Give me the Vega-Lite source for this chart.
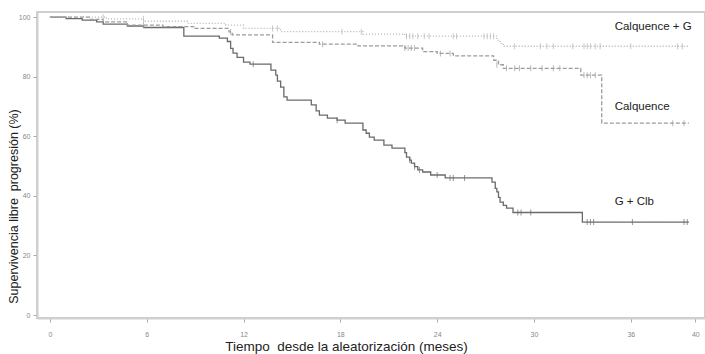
{
  "$schema": "https://vega.github.io/schema/vega-lite/v6.json",
  "width": 668,
  "height": 306,
  "autosize": "none",
  "padding": {"left": 37, "top": 12, "right": 0, "bottom": 36},
  "config": {
    "view": {"stroke": "#cfcfcf", "strokeWidth": 2},
    "axis": {
      "grid": false,
      "domainColor": "#cfcfcf",
      "domainWidth": 2,
      "tickColor": "#aaaaaa",
      "tickSize": 4,
      "labelColor": "#888888",
      "labelFontSize": 7,
      "labelFont": "Liberation Sans",
      "titleFont": "Liberation Sans",
      "titleFontSize": 13,
      "titleFontWeight": "normal",
      "titleColor": "#222222"
    }
  },
  "datasets": {
    "curves": [
      {"series": "G + Clb", "t": 0, "s": 100},
      {"series": "G + Clb", "t": 1.0, "s": 99.5},
      {"series": "G + Clb", "t": 2.0, "s": 99.0},
      {"series": "G + Clb", "t": 2.9, "s": 98.4},
      {"series": "G + Clb", "t": 3.3, "s": 97.6},
      {"series": "G + Clb", "t": 4.8, "s": 97.0},
      {"series": "G + Clb", "t": 5.8, "s": 96.5},
      {"series": "G + Clb", "t": 8.3, "s": 93.6},
      {"series": "G + Clb", "t": 10.5, "s": 92.9},
      {"series": "G + Clb", "t": 11.0, "s": 91.8},
      {"series": "G + Clb", "t": 11.2, "s": 89.5},
      {"series": "G + Clb", "t": 11.35, "s": 87.9},
      {"series": "G + Clb", "t": 11.6, "s": 86.5},
      {"series": "G + Clb", "t": 12.0, "s": 84.9},
      {"series": "G + Clb", "t": 12.4, "s": 84.2},
      {"series": "G + Clb", "t": 13.7, "s": 82.2},
      {"series": "G + Clb", "t": 14.0, "s": 80.5},
      {"series": "G + Clb", "t": 14.1, "s": 78.5},
      {"series": "G + Clb", "t": 14.3, "s": 76.5},
      {"series": "G + Clb", "t": 14.5, "s": 73.2},
      {"series": "G + Clb", "t": 14.7, "s": 72.1},
      {"series": "G + Clb", "t": 16.2, "s": 70.5},
      {"series": "G + Clb", "t": 16.5, "s": 68.5},
      {"series": "G + Clb", "t": 16.7, "s": 67.1},
      {"series": "G + Clb", "t": 17.2, "s": 66.1},
      {"series": "G + Clb", "t": 17.8, "s": 65.4},
      {"series": "G + Clb", "t": 18.3, "s": 64.4},
      {"series": "G + Clb", "t": 19.4, "s": 62.1},
      {"series": "G + Clb", "t": 19.6, "s": 61.0},
      {"series": "G + Clb", "t": 19.8, "s": 59.7},
      {"series": "G + Clb", "t": 20.1, "s": 58.7},
      {"series": "G + Clb", "t": 20.7, "s": 57.0},
      {"series": "G + Clb", "t": 21.2, "s": 56.0},
      {"series": "G + Clb", "t": 22.0, "s": 54.5},
      {"series": "G + Clb", "t": 22.1, "s": 53.0},
      {"series": "G + Clb", "t": 22.3, "s": 52.0},
      {"series": "G + Clb", "t": 22.4, "s": 51.0},
      {"series": "G + Clb", "t": 22.6, "s": 49.8},
      {"series": "G + Clb", "t": 22.8, "s": 48.7},
      {"series": "G + Clb", "t": 23.1, "s": 48.0},
      {"series": "G + Clb", "t": 23.6, "s": 47.0},
      {"series": "G + Clb", "t": 24.5, "s": 46.0},
      {"series": "G + Clb", "t": 27.4, "s": 44.6},
      {"series": "G + Clb", "t": 27.6, "s": 42.5},
      {"series": "G + Clb", "t": 27.7, "s": 41.3},
      {"series": "G + Clb", "t": 27.8, "s": 39.5},
      {"series": "G + Clb", "t": 27.9, "s": 37.9},
      {"series": "G + Clb", "t": 28.1, "s": 36.8},
      {"series": "G + Clb", "t": 28.3, "s": 35.9},
      {"series": "G + Clb", "t": 28.7, "s": 34.4},
      {"series": "G + Clb", "t": 33.0, "s": 31.2},
      {"series": "G + Clb", "t": 39.6, "s": 31.2},

      {"series": "Calquence", "t": 0, "s": 100},
      {"series": "Calquence", "t": 2.5, "s": 99.2},
      {"series": "Calquence", "t": 3.3, "s": 98.4},
      {"series": "Calquence", "t": 4.8, "s": 97.3},
      {"series": "Calquence", "t": 7.0, "s": 96.8},
      {"series": "Calquence", "t": 9.0, "s": 96.2},
      {"series": "Calquence", "t": 11.1, "s": 95.0},
      {"series": "Calquence", "t": 11.3, "s": 94.0},
      {"series": "Calquence", "t": 13.8, "s": 91.5},
      {"series": "Calquence", "t": 16.7, "s": 90.9},
      {"series": "Calquence", "t": 19.1, "s": 90.3},
      {"series": "Calquence", "t": 22.0, "s": 89.6},
      {"series": "Calquence", "t": 23.1, "s": 88.4},
      {"series": "Calquence", "t": 24.0, "s": 87.8},
      {"series": "Calquence", "t": 25.0, "s": 87.0},
      {"series": "Calquence", "t": 27.5, "s": 85.5},
      {"series": "Calquence", "t": 27.8, "s": 84.0},
      {"series": "Calquence", "t": 28.1, "s": 82.8},
      {"series": "Calquence", "t": 32.9, "s": 80.5},
      {"series": "Calquence", "t": 34.2, "s": 64.4},
      {"series": "Calquence", "t": 39.6, "s": 64.4},

      {"series": "Calquence + G", "t": 0, "s": 100},
      {"series": "Calquence + G", "t": 3.5, "s": 99.4},
      {"series": "Calquence + G", "t": 5.8, "s": 98.6},
      {"series": "Calquence + G", "t": 8.5, "s": 97.9},
      {"series": "Calquence + G", "t": 10.9, "s": 97.3},
      {"series": "Calquence + G", "t": 12.0, "s": 96.2},
      {"series": "Calquence + G", "t": 14.3, "s": 95.1},
      {"series": "Calquence + G", "t": 19.4, "s": 94.3},
      {"series": "Calquence + G", "t": 22.0, "s": 93.6},
      {"series": "Calquence + G", "t": 27.7, "s": 92.2},
      {"series": "Calquence + G", "t": 27.9, "s": 91.2},
      {"series": "Calquence + G", "t": 28.1, "s": 90.2},
      {"series": "Calquence + G", "t": 39.6, "s": 90.2}
    ],
    "censors": [
      {"series": "G + Clb", "t": 12.6, "s": 84.2},
      {"series": "G + Clb", "t": 17.8, "s": 65.4},
      {"series": "G + Clb", "t": 22.3, "s": 52.0},
      {"series": "G + Clb", "t": 22.6, "s": 49.8},
      {"series": "G + Clb", "t": 22.9, "s": 48.7},
      {"series": "G + Clb", "t": 24.0, "s": 47.0},
      {"series": "G + Clb", "t": 24.8, "s": 46.0},
      {"series": "G + Clb", "t": 25.0, "s": 46.0},
      {"series": "G + Clb", "t": 25.7, "s": 46.0},
      {"series": "G + Clb", "t": 29.0, "s": 34.4},
      {"series": "G + Clb", "t": 29.2, "s": 34.4},
      {"series": "G + Clb", "t": 29.8, "s": 34.4},
      {"series": "G + Clb", "t": 33.3, "s": 31.2},
      {"series": "G + Clb", "t": 33.5, "s": 31.2},
      {"series": "G + Clb", "t": 33.7, "s": 31.2},
      {"series": "G + Clb", "t": 36.1, "s": 31.2},
      {"series": "G + Clb", "t": 39.3, "s": 31.2},
      {"series": "G + Clb", "t": 39.5, "s": 31.2},

      {"series": "Calquence", "t": 5.8, "s": 97.3},
      {"series": "Calquence", "t": 11.2, "s": 95.0},
      {"series": "Calquence", "t": 16.9, "s": 90.9},
      {"series": "Calquence", "t": 22.0, "s": 89.6},
      {"series": "Calquence", "t": 22.2, "s": 89.6},
      {"series": "Calquence", "t": 22.4, "s": 89.6},
      {"series": "Calquence", "t": 22.6, "s": 89.6},
      {"series": "Calquence", "t": 24.2, "s": 87.8},
      {"series": "Calquence", "t": 24.8, "s": 87.8},
      {"series": "Calquence", "t": 27.7, "s": 84.0},
      {"series": "Calquence", "t": 28.3, "s": 82.8},
      {"series": "Calquence", "t": 28.8, "s": 82.8},
      {"series": "Calquence", "t": 29.1, "s": 82.8},
      {"series": "Calquence", "t": 29.8, "s": 82.8},
      {"series": "Calquence", "t": 30.5, "s": 82.8},
      {"series": "Calquence", "t": 31.2, "s": 82.8},
      {"series": "Calquence", "t": 31.6, "s": 82.8},
      {"series": "Calquence", "t": 33.1, "s": 80.5},
      {"series": "Calquence", "t": 33.3, "s": 80.5},
      {"series": "Calquence", "t": 33.5, "s": 80.5},
      {"series": "Calquence", "t": 33.8, "s": 80.5},
      {"series": "Calquence", "t": 38.6, "s": 64.4},
      {"series": "Calquence", "t": 39.3, "s": 64.4},

      {"series": "Calquence + G", "t": 3.3, "s": 100},
      {"series": "Calquence + G", "t": 5.8, "s": 99.4},
      {"series": "Calquence + G", "t": 13.8, "s": 96.2},
      {"series": "Calquence + G", "t": 14.1, "s": 96.2},
      {"series": "Calquence + G", "t": 18.1, "s": 95.1},
      {"series": "Calquence + G", "t": 19.3, "s": 95.1},
      {"series": "Calquence + G", "t": 22.1, "s": 93.6},
      {"series": "Calquence + G", "t": 22.3, "s": 93.6},
      {"series": "Calquence + G", "t": 22.5, "s": 93.6},
      {"series": "Calquence + G", "t": 22.8, "s": 93.6},
      {"series": "Calquence + G", "t": 23.2, "s": 93.6},
      {"series": "Calquence + G", "t": 23.5, "s": 93.6},
      {"series": "Calquence + G", "t": 25.0, "s": 93.6},
      {"series": "Calquence + G", "t": 25.2, "s": 93.6},
      {"series": "Calquence + G", "t": 26.9, "s": 93.6},
      {"series": "Calquence + G", "t": 27.1, "s": 93.6},
      {"series": "Calquence + G", "t": 27.3, "s": 93.6},
      {"series": "Calquence + G", "t": 27.5, "s": 93.6},
      {"series": "Calquence + G", "t": 28.8, "s": 90.2},
      {"series": "Calquence + G", "t": 30.4, "s": 90.2},
      {"series": "Calquence + G", "t": 30.8, "s": 90.2},
      {"series": "Calquence + G", "t": 31.2, "s": 90.2},
      {"series": "Calquence + G", "t": 32.4, "s": 90.2},
      {"series": "Calquence + G", "t": 33.1, "s": 90.2},
      {"series": "Calquence + G", "t": 33.3, "s": 90.2},
      {"series": "Calquence + G", "t": 33.5, "s": 90.2},
      {"series": "Calquence + G", "t": 33.8, "s": 90.2},
      {"series": "Calquence + G", "t": 34.1, "s": 90.2},
      {"series": "Calquence + G", "t": 36.0, "s": 90.2},
      {"series": "Calquence + G", "t": 38.9, "s": 90.2},
      {"series": "Calquence + G", "t": 39.2, "s": 90.2}
    ],
    "labels": [
      {"label": "Calquence + G", "t": 35.0, "s": 96.6},
      {"label": "Calquence", "t": 35.0, "s": 69.8},
      {"label": "G + Clb", "t": 35.0, "s": 37.9}
    ]
  },
  "encoding": {
    "x": {
      "field": "t", "type": "quantitative",
      "scale": {"domain": [-0.8, 40.6], "nice": false, "zero": false},
      "axis": {
        "values": [0, 6, 12, 18, 24, 30, 36, 40],
        "title": "Tiempo\u00a0 desde la aleatorización (meses)",
        "titleFontSize": 13.5,
        "labelPadding": 8,
        "titleX": 309, "titleY": 28, "titleBaseline": "middle", "titleAnchor": null
      }
    },
    "y": {
      "field": "s", "type": "quantitative",
      "scale": {"domain": [-1.0, 101.7], "nice": false, "zero": false},
      "axis": {
        "values": [0, 20, 40, 60, 80, 100],
        "title": "Supervivencia libre\u00a0 progresión (%)",
        "titleFontSize": 12.5,
        "labelPadding": 3,
        "titleAngle": -90,
        "titleX": -24, "titleY": 194, "titleBaseline": "middle", "titleAlign": "center", "titleAnchor": null
      }
    }
  },
  "layer": [
    {
      "data": {"name": "curves"},
      "mark": {"type": "line", "interpolate": "step-after", "strokeWidth": 1.3},
      "encoding": {
        "color": {"field": "series", "type": "nominal", "legend": null,
          "scale": {"domain": ["G + Clb", "Calquence", "Calquence + G"], "range": ["#6a6a6a", "#9c9c9c", "#b4b4b4"]}},
        "strokeDash": {"field": "series", "type": "nominal", "legend": null,
          "scale": {"domain": ["G + Clb", "Calquence", "Calquence + G"], "range": [[1, 0], [4, 2], [1, 2]]}}
      }
    },
    {
      "data": {"name": "censors"},
      "mark": {"type": "tick", "orient": "vertical", "size": 6, "thickness": 1},
      "encoding": {
        "color": {"field": "series", "type": "nominal", "legend": null,
          "scale": {"domain": ["G + Clb", "Calquence", "Calquence + G"], "range": ["#6a6a6a", "#9c9c9c", "#b4b4b4"]}}
      }
    },
    {
      "data": {"name": "labels"},
      "mark": {"type": "text", "align": "left", "baseline": "middle", "font": "Liberation Sans", "fontSize": 11.5, "color": "#222222"},
      "encoding": {"text": {"field": "label", "type": "nominal"}}
    }
  ]
}
